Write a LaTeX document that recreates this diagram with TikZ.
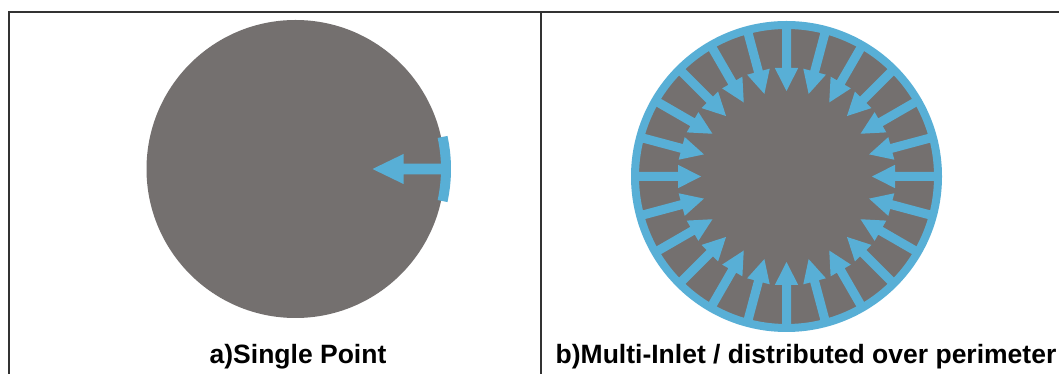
\documentclass[tikz,border=0pt]{standalone}
\usepackage{fontspec}
\setmainfont{Liberation Sans}
\usetikzlibrary{calc}
\definecolor{disc}{RGB}{116,112,111}
\definecolor{inlet}{RGB}{88,175,214}
\definecolor{framegray}{RGB}{50,50,50}
\begin{document}
\begin{tikzpicture}[x=1pt,y=1pt,
  frameline/.style={draw=framegray,line width=1.6pt},
  caption/.style={anchor=base,font=\fontsize{26.5}{30}\selectfont\bfseries,inner sep=0pt},
  % inflow arrow pointing towards -x, starting at the origin
  inflow/.pic={\fill[inlet] (0,-4.5) -- (-41.5,-4.5) -- (-41.5,-11.7) -- (-64.5,0)
                 -- (-41.5,11.7) -- (-41.5,4.5) -- (0,4.5) -- cycle;},
  bigflow/.pic={\fill[inlet] (0,-5.3) -- (-38,-5.3) -- (-38,-15) -- (-69,0)
                 -- (-38,15) -- (-38,5.3) -- (0,5.3) -- cycle;}]
\useasboundingbox (0,0) rectangle (1059,374);
\fill[white] (0,0) rectangle (1059,374);

% panel frame
\draw[frameline] (9,0) -- (9,362) -- (1059,362);
\draw[frameline] (541,0) -- (541,362);

% a) single point inlet
\coordinate (ca) at (295.5,205);
\fill[disc] (ca) circle[radius=149];
\draw[inlet,line width=10pt] ($(ca)+(-12.3:150.5)$) arc[start angle=-12.3,end angle=12.3,radius=150.5];
\pic at ($(ca)+(0:146)$) {bigflow};

% b) inlets distributed over the perimeter
\coordinate (cb) at (786.5,197.5);
\fill[disc] (cb) circle[radius=151.5];
\foreach \a in {0,15,...,345}
  \pic[rotate=\a] at ($(cb)+(\a:150)$) {inflow};
\draw[inlet,line width=8pt] (cb) circle[radius=151.5];

% captions
\node[caption] (capa) at (298,10) {a)Single Point};
\node[caption] (capb) at (806,10) {b)Multi-Inlet / distributed over perimeter};
\end{tikzpicture}
\end{document}
